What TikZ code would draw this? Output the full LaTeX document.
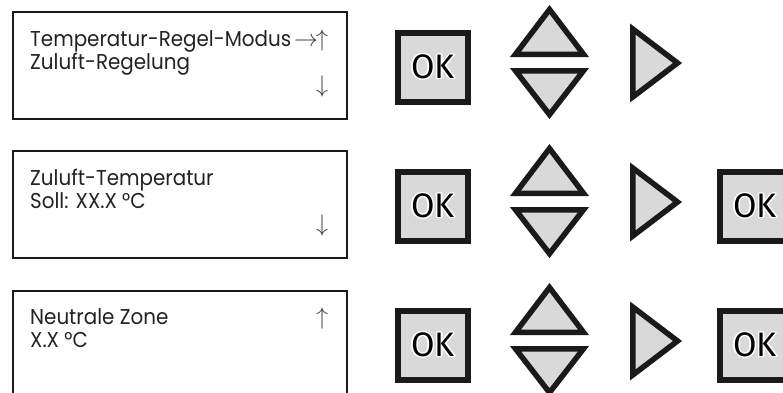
\documentclass[tikz,border=0pt]{standalone}
\usepackage{fix-cm}
\usepackage{fontspec}
\setmainfont{Poppins}[FakeStretch=0.925]
\newfontfamily\okfont{Fira Sans}
\usepackage{contour}
\contourlength{1.3pt}
\definecolor{btngray}{HTML}{D9D9D9}
\definecolor{ink}{HTML}{1A1A1A}
\definecolor{txt}{HTML}{222222}
\begin{document}
\begin{tikzpicture}[x=1pt,y=-1pt,
  display/.style={draw=ink, line width=2pt, minimum width=334pt, minimum height=107pt, inner sep=0pt},
  dtext/.style={anchor=base west, inner sep=0pt, text=txt, font=\fontsize{21.5}{22}\selectfont},
  arr/.style={anchor=base, inner sep=0pt, text=black!75, font=\fontsize{24}{24}\selectfont},
  okbtn/.style={draw=ink, fill=btngray, line width=5.8pt, minimum width=70pt, minimum height=69pt, inner sep=0pt, font=\okfont\fontsize{34}{34}\selectfont},
  tri/.style={draw=ink, fill=btngray, line width=5.5pt, line join=miter}
]
\useasboundingbox (0,0) rectangle (783,392);
\clip (0,0) rectangle (783,392);

% displays
\node[display] (d1) at (180,65.5) {};
\node[display] (d2) at (180,204.5) {};
\node[display] (d3) at (180,344.5) {};

% display texts
\node[dtext] (d1l1) at (30,46.5) {Temperatur-Regel-Modus};
\node[dtext] (d1l2) at (30,69) {Zuluft-Regelung};
\node[arr] (d1r) at (306,46.5) {$\rightarrow$};
\node[arr] (d1u) at (322,46.5) {$\uparrow$};
\node[arr] (d1d) at (322,92) {$\downarrow$};

\node[dtext] (d2l1) at (30,185.5) {Zuluft-Temperatur};
\node[dtext] (d2l2) at (30,208) {Soll: XX.X °C};
\node[arr] (d2d) at (322,231) {$\downarrow$};

\node[dtext] (d3l1) at (30,324.5) {Neutrale Zone};
\node[dtext] (d3l2) at (30,347) {X.X °C};
\node[arr] (d3u) at (322,324.5) {$\uparrow$};

% buttons
\foreach \r/\dy in {1/0,2/139,3/278}{
  \node[okbtn] (ok\r) at (433,{67.5+\dy}) {\contour{white}{OK}};
  \draw[tri] (549.5,{9.5+\dy}) -- (583.5,{54.25+\dy}) -- (515.5,{54.25+\dy}) -- cycle;
  \draw[tri] (515.5,{70.75+\dy}) -- (583.5,{70.75+\dy}) -- (549.5,{114.6+\dy}) -- cycle;
  \draw[tri] (632.75,{29+\dy}) -- (677.5,{63+\dy}) -- (632.75,{97+\dy}) -- cycle;
}
\node[okbtn] (okb2) at (755,206.5) {\contour{white}{OK}};
\node[okbtn] (okb3) at (755,345.5) {\contour{white}{OK}};
\end{tikzpicture}
\end{document}
